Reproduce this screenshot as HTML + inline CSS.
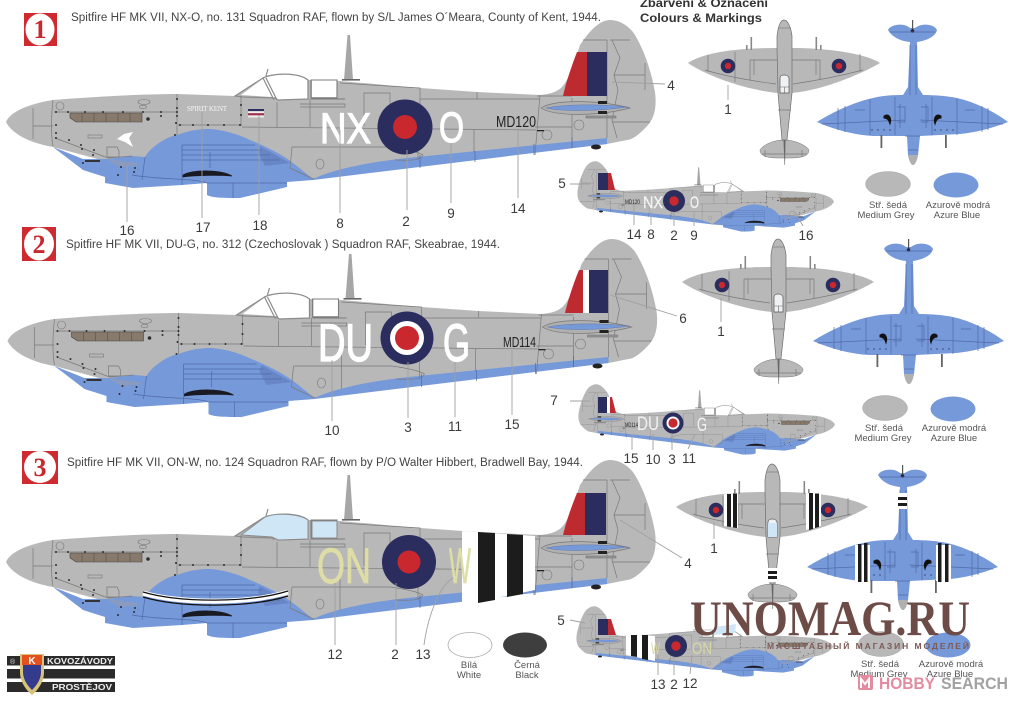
<!DOCTYPE html>
<html><head><meta charset="utf-8"><style>
html,body{margin:0;padding:0;background:#fff}
svg{display:block;filter:blur(.35px)}
text{font-family:"Liberation Sans",sans-serif}
.n{font-size:13.5px;fill:#3a3a3a;text-anchor:middle}
.t{font-size:11.5px;fill:#444}
.s{font-size:9.5px;fill:#555;text-anchor:middle}
.l{stroke:#a0a0a0;stroke-width:.9;fill:none}
.p{stroke:#7a7a7a;stroke-width:.7;fill:none}
.b{stroke:#506aa6;stroke-width:.7;fill:none}
</style></head><body>
<svg xmlns="http://www.w3.org/2000/svg" width="1020" height="702" viewBox="0 0 1020 702">
<defs>
<g id="side">
 <path d="M6,122 C10,112 28,104 53,100 C100,96 150,94 177,94 L235,96 L263,78 C272,73 298,72 308,80 L340,81 L420,88 L477,92 L540,95 C552,94 558,91 562,87 C569,80 575,60 580,45 C590,30 600,20 610,20 C620,20 628,26 633,32 C645,50 652,75 655,92 C657,108 654,118 648,125 C640,134 632,140 627,140 L607,144 L314,179 L290,170 L120,165 L53,147 C30,143 12,134 6,122 Z" fill="#b8b8b8"/>
 <path d="M53,147 L83,159 L107,159 L132,156 L145,157 C150,148 165,137 177,135 C190,130 200,129 210,129 C225,130 240,135 250,140 C265,146 283,155 293,163 C302,170 308,175 313,179 C322,175 345,165 407,158 L607,138 V144 L313,180 L287,182 V187 L240,198 C225,198 212,198 207,195 V183 L182,185 L133,188 L105,183 V177 L83,170 Z" fill="#7699da"/>
 <path d="M260,146 L290,163 L265,166 L258,152 Z" fill="#6886c6"/>
 <path d="M241,95 L265,77 C275,73 298,73 308,80 L308,99 L278,100 L272,97 Z" fill="#fff"/>
 <rect x="312" y="80" width="25" height="17" fill="#fff"/>
 <path d="M235,96 L263,78 C272,73 298,72 308,80 V99 L278,100 L275,98 L243,97 Z" fill="none" stroke="#8c8c8c" stroke-width="1.3"/>
 <path d="M263,78 L274,100 M266,78 L277,100 M266,76 L268,69" stroke="#8c8c8c" stroke-width="1.2" fill="none"/>
 <path d="M311,80 H337 V98 H311 Z M311,99 H345" stroke="#7c7c7c" stroke-width="1.1" fill="none"/>
 <path d="M344,80 L347.5,35 L350,35 L353,80 Z" fill="#a6a6a6"/>
 <rect x="342" y="79" width="18" height="1.6" fill="#666"/>
 <path d="M70,113 H142 V122 H76 L70,118 Z" fill="#877a6c" stroke="#444" stroke-width=".6"/>
 <path d="M82,113V122 M94,113V122 M106,113V122 M118,113V122 M130,113V122" stroke="#5d5348" stroke-width=".6"/>
 <path class="p" d="M53,100 C51,118 51,135 53,146 M33,108 V139 M33,126 H53 M54,112 H177 M177,94 V135 M178,125 H242 M241,96 V125 M242,127 L536,130 M55,138 L108,158 L132,156 M277,102 V127 M310,99 V127 M292,147 H390 C405,149 418,152 423,155 C420,162 405,160 395,160 M292,147 L290,168 C298,172 305,175 314,179 M364,126 V93 H390 V127 M340,83 L420,88 V127 M420,99 H540 M477,92 V99 M540,95 L535,155 M572,98 V148 M607,40 V138 M583,40 H607 M610,40 H630 M612,40 L620,58 L614,75 H645 M645,63 V90 M614,75 L618,90 L612,120 L617,138 M612,122 H650 M535,127 L572,127 M418,127 V160 M474,130 V152 M340,127 V170 M300,104 H345 V107 H300 M537,96 H572"/>
 <path class="b" d="M182,145 H255 M182,150 H262 M182,155 H270 M182,160 H280 M182,145 V185 M210,152 V168 M207,183 H287 M233,183 V198 M420,155 V168 M475,151 V162 M534,144 V155 M572,137 V148 M145,157 L142,180 M132,175 C160,180 195,178 207,183"/>
 <path d="M183,175 C195,169 222,170 232,176 C222,175 196,175 183,177 Z" fill="#1a1a22" stroke="#1a1a22" stroke-width=".8"/>
 <rect x="85" y="160" width="15" height="2" fill="#333"/>
 <path d="M107,159 L135,163 L142,165 L120,167 Z" fill="#8a9bbd"/>
 <path d="M541,108 C555,99 600,100 630,108 C600,116 555,117 541,108 Z" fill="#b0b0b0" stroke="#777" stroke-width=".7"/>
 <path d="M546,108 C565,104 600,104 628,107 C600,111 565,112 546,108 Z" fill="#7699da" stroke="#5a6f9e" stroke-width=".4"/>
 <rect x="598" y="101" width="9" height="3" fill="#222"/><rect x="598" y="111" width="9" height="3" fill="#222"/>
 <rect x="586" y="116" width="30" height="2" fill="#999" stroke="#666" stroke-width=".5"/>
 <ellipse cx="596" cy="147" rx="5" ry="2.5" fill="#222"/>
 <circle cx="579" cy="125" r="5" fill="none" stroke="#777" stroke-width=".6"/>
 <circle cx="547" cy="135" r="5" fill="none" stroke="#777" stroke-width=".6"/>
 <rect x="537" y="130" width="7" height="1.3" fill="#222"/>
 <ellipse cx="320" cy="164" rx="4" ry="5" fill="none" stroke="#777" stroke-width=".6"/>
 <rect x="88" y="135" width="14" height="3" fill="none" stroke="#777" stroke-width=".6"/>
 <path class="p" d="M107,147 H117 L119,151 V157 H107 Z"/>
 <g fill="#2e2e2e"><circle cx="148" cy="119" r="1.8"/><circle cx="56" cy="112" r="1"/><circle cx="68" cy="112" r="1"/><circle cx="85" cy="112" r="1"/><circle cx="103" cy="112" r="1"/><circle cx="123" cy="112" r="1"/><circle cx="143" cy="112" r="1"/><circle cx="161" cy="112" r="1"/><circle cx="177" cy="112" r="1"/><circle cx="161" cy="116" r="1"/><circle cx="177" cy="116" r="1"/><circle cx="56" cy="125" r="1"/><circle cx="56" cy="133" r="1"/><circle cx="56" cy="138" r="1"/><circle cx="69" cy="140" r="1"/><circle cx="81" cy="145" r="1"/><circle cx="94" cy="150" r="1"/><circle cx="82" cy="149" r="1"/><circle cx="93" cy="155" r="1"/><circle cx="83" cy="163" r="1"/><circle cx="118" cy="175" r="1"/><circle cx="121" cy="167" r="1"/><circle cx="135" cy="168" r="1"/><circle cx="134" cy="172" r="1"/><circle cx="177" cy="99" r="1"/><circle cx="177" cy="108" r="1"/><circle cx="176" cy="123" r="1"/><circle cx="175" cy="135" r="1"/><circle cx="180" cy="125" r="1"/><circle cx="193" cy="125" r="1"/><circle cx="208" cy="125" r="1"/><circle cx="224" cy="125" r="1"/><circle cx="240" cy="125" r="1"/><circle cx="241" cy="105" r="1"/><circle cx="241" cy="115" r="1"/></g>
 <ellipse cx="60" cy="106" rx="4" ry="4" fill="none" stroke="#777" stroke-width=".6"/>
 <ellipse cx="144" cy="102" rx="6" ry="2.5" fill="none" stroke="#777" stroke-width=".6"/>
 <ellipse cx="143" cy="107" rx="3.5" ry="1.8" fill="none" stroke="#777" stroke-width=".6"/>
</g>
<g id="top">
 <path d="M688,63 C700,55 725,48 777,48 L793,48 C825,48 865,53 880,63 C865,72 825,90 792,93 L778,93 C745,90 705,75 688,63 Z" fill="#b8b8b8"/>
 <path d="M760,150 C762,146 772,140 784,140 C796,140 807,146 809,150 C809,155 804,158 790,158 L778,158 C765,158 760,155 760,150 Z" fill="#b8b8b8" stroke="#777" stroke-width=".5"/>
 <path d="M777,48 V36 C778,28 780,20 784,20 C788,20 791,28 792,36 V48 L792,93 L787,140 L782,140 L778,93 Z" fill="#b8b8b8" stroke="#6e6e6e" stroke-width=".7"/>
 <path d="M783.5,140 L785.5,140 L785,165 L784.5,165 Z" fill="#666"/>
 <path d="M780,78 C780,74 788,74 789,78 V93 H780 Z" fill="#eef2f5" stroke="#555" stroke-width=".7"/>
 <path d="M780,87 H789 M784.5,87 V93 M779,28 H791" stroke="#666" stroke-width=".6" fill="none"/>
 <rect x="750.5" y="37" width="1.6" height="13" fill="#888"/><rect x="815.5" y="37" width="1.6" height="13" fill="#888"/>
 <rect x="746" y="45" width="1.6" height="5" fill="#888"/><rect x="820" y="45" width="1.6" height="5" fill="#888"/>
 <path class="p" d="M708,55 V72 M735,52 V82 M750,60 H777 M792,60 H820 M860,54 V72 M750,60 V80 M820,60 V80 M754,60 V75 M816,60 V75 M705,70 C725,76 745,80 776,84 M863,70 C840,76 820,80 793,84 M765,150 V157 M802,150 V157 M762,154 H807 M778,110 H791"/>
</g>
<g id="bot">
 <path d="M888,30 C890,25 903,22 910,28 L915,28 C923,22 935,25 937,30 C936,35 930,40 917,42 L918,87 L923,95 C935,95 947,96 957,98 C975,102 995,112 1008,122 C995,127 980,132 960,134 L920,136 L918,155 C917,160 915,165 913,165 C911,165 909,160 908,155 L907,136 L873,136 C855,135 835,130 817,122 C828,115 850,103 873,98 C885,95 895,95 903,95 L908,87 L910,42 C900,41 892,37 888,30 Z" fill="#7699da"/>
 <path d="M908,155 C909,161 911,165 913,165 C915,165 917,161 918,155 Z" fill="#b0b0b0"/>
 <rect x="912" y="20" width="1.2" height="12" fill="#555"/>
 <circle cx="912.5" cy="31" r="1.8" fill="#223"/>
 <path class="b" d="M822,124 L905,120 M1003,124 L920,120 M838,108 V130 M845,106 V132 M870,99 V135 M895,97 V135 M932,97 V135 M957,99 V135 M982,106 V132 M988,108 V130 M900,104 V128 M926,104 V128 M897,107 H905 V122 H897 M921,107 H928 V122 H921 M910,45 V95 M916,45 V95 M855,110 H865 M965,110 H975 M890,32 H935 M908,150 H918 M905,136 H920"/>
 <g fill="#55699a"><circle cx="872" cy="130" r="1"/><circle cx="878" cy="130" r="1"/><circle cx="884" cy="130" r="1"/><circle cx="890" cy="130" r="1"/><circle cx="935" cy="130" r="1"/><circle cx="941" cy="130" r="1"/><circle cx="947" cy="130" r="1"/><circle cx="953" cy="130" r="1"/></g>
 <path d="M884,116 C889,113 892,118 890,124 C889,120 887,118 884,118 Z" fill="#111" stroke="#111" stroke-width="1"/>
 <path d="M941,116 C936,113 933,118 935,124 C936,120 938,118 941,118 Z" fill="#111" stroke="#111" stroke-width="1"/>
 <rect x="880.5" y="135" width="1.8" height="13" fill="#666"/><rect x="945" y="135" width="1.8" height="13" fill="#666"/>
</g>
</defs>
<rect width="1020" height="702" fill="#fff"/>

<!-- Large side views -->
<use href="#side"/>
<use href="#side" transform="translate(1.5,219)"/>
<use href="#side" transform="translate(0,440)"/>

<!-- Plane 1 markings -->
<path d="M563,96 C566,82 572,65 577,52 H587 V96 Z" fill="#bd2b30"/><rect x="587" y="52" width="20" height="44" fill="#2b2d5e"/>
<circle cx="405" cy="127" r="27.5" fill="#2b2d5e"/><circle cx="405" cy="127" r="12" fill="#c9282f"/>
<text x="320" y="143" font-size="43" fill="#fff" stroke="#fff" stroke-width="1.2" textLength="51" lengthAdjust="spacingAndGlyphs">NX</text>
<text x="439" y="142" font-size="43" fill="#fff" stroke="#fff" stroke-width="1.2" textLength="25" lengthAdjust="spacingAndGlyphs">O</text>
<text x="496" y="127" font-size="16" fill="#222" textLength="40" lengthAdjust="spacingAndGlyphs">MD120</text>
<text x="187" y="111" font-size="7" fill="#f4f4f4" textLength="40" style="font-family:'Liberation Serif',serif">SPIRIT KENT</text>
<rect x="248" y="109" width="16" height="2.2" fill="#2b2d5e"/><rect x="248" y="111.2" width="16" height="2" fill="#eee"/><rect x="248" y="113.2" width="16" height="2.2" fill="#a23050"/><rect x="248" y="115.4" width="16" height="2" fill="#eee"/>
<path d="M117,139 L124,134 L133,132 L129,138 L133,147 L125,142 Z" fill="#fff"/>

<!-- Plane 2 markings -->
<path d="M565,313 C568,300 574,282 579,270 H583 V313 Z" fill="#bd2b30"/><rect x="583" y="270" width="6" height="43" fill="#fff"/><rect x="589" y="270" width="19" height="43" fill="#2b2d5e"/>
<circle cx="407" cy="338" r="26.5" fill="#2b2d5e"/><circle cx="407" cy="338" r="17" fill="#fff"/><circle cx="407" cy="338" r="12" fill="#c9282f"/>
<text x="318" y="361" font-size="53" fill="#fff" stroke="#fff" stroke-width="1.3" textLength="55" lengthAdjust="spacingAndGlyphs">DU</text>
<text x="443" y="361" font-size="53" fill="#fff" stroke="#fff" stroke-width="1.3" textLength="27" lengthAdjust="spacingAndGlyphs">G</text>
<text x="503" y="347" font-size="15" fill="#222" textLength="33" lengthAdjust="spacingAndGlyphs">MD114</text>

<!-- Plane 3 markings -->
<path d="M563,535 C566,522 572,505 577,493 H585 V535 Z" fill="#bd2b30"/><rect x="585" y="493" width="21" height="42" fill="#2b2d5e"/>
<path d="M241,535 L265,517 C275,513 298,513 308,520 L308,539 L278,540 L272,537 Z" fill="#cfe6f6" stroke="#8c8c8c" stroke-width="1"/>
<rect x="312" y="521" width="25" height="17" fill="#cfe6f6" stroke="#8c8c8c" stroke-width="1"/>
<path d="M462,531 L535,536 V590 L462,605 Z" fill="#fff"/>
<path d="M478,532 L495,533 V600 L478,603 Z" fill="#1c1c1c"/><path d="M507,534 L523,535 V594 L507,597 Z" fill="#1c1c1c"/>
<circle cx="409" cy="562" r="27" fill="#2b2d5e"/><circle cx="409" cy="562" r="11.5" fill="#c9282f"/>
<text x="317" y="583" font-size="50" fill="#dedda6" stroke="#dedda6" stroke-width=".8" textLength="54" lengthAdjust="spacingAndGlyphs">ON</text>
<text x="449" y="583" font-size="50" fill="#dedda6" stroke="#dedda6" stroke-width=".8" textLength="22" lengthAdjust="spacingAndGlyphs">W</text>
<path d="M143,593 C180,604 250,604 288,592" stroke="#fff" stroke-width="5" fill="none"/>
<path d="M143,592 C180,603 250,603 288,591" stroke="#111" stroke-width="1.3" fill="none"/>
<path d="M143,597 C180,608 250,608 288,596" stroke="#111" stroke-width="1.3" fill="none"/>

<!-- Small side views -->
<use href="#side" transform="matrix(-.395 0 0 .395 836.4 153.4)"/>
<use href="#side" transform="matrix(-.395 0 0 .395 837.4 376.4)"/>
<use href="#side" transform="matrix(-.395 0 0 .395 835.4 598.4)"/>
<g>
<path d="M608,173 H611 L615,190 H608 Z" fill="#bd2b30"/><rect x="598" y="173" width="10" height="17" fill="#2b2d5e"/>
<circle cx="674" cy="201" r="11" fill="#2b2d5e"/><circle cx="674" cy="201" r="4.7" fill="#c9282f"/>
<text x="643" y="208" font-size="17" fill="#f2f2f2" stroke="#f2f2f2" stroke-width=".4" textLength="20" lengthAdjust="spacingAndGlyphs">NX</text>
<text x="690" y="208" font-size="17" fill="#f2f2f2" stroke="#f2f2f2" stroke-width=".4" textLength="9" lengthAdjust="spacingAndGlyphs">O</text>
<text x="625" y="204" font-size="6" fill="#222" textLength="15" lengthAdjust="spacingAndGlyphs">MD120</text>
<path d="M610,397 H612 L616,413 H610 Z" fill="#bd2b30"/><rect x="607" y="397" width="3" height="16" fill="#fff"/><rect x="598" y="397" width="9" height="16" fill="#2b2d5e"/>
<circle cx="673" cy="423" r="10.5" fill="#2b2d5e"/><circle cx="673" cy="423" r="6.5" fill="#fff"/><circle cx="673" cy="423" r="4.6" fill="#c9282f"/>
<text x="637" y="430" font-size="19" fill="#f2f2f2" textLength="22" lengthAdjust="spacingAndGlyphs">DU</text>
<text x="697" y="431" font-size="19" fill="#f2f2f2" textLength="10" lengthAdjust="spacingAndGlyphs">G</text>
<text x="625" y="427" font-size="6" fill="#222" textLength="13" lengthAdjust="spacingAndGlyphs">MD114</text>
<path d="M608,619 H611 L616,635 H608 Z" fill="#bd2b30"/><rect x="598" y="619" width="10" height="16" fill="#2b2d5e"/>
<path d="M626,634 L655,636 V661 L626,655 Z" fill="#fff"/>
<path d="M631,635 H637 V657 L631,656 Z" fill="#1c1c1c"/><path d="M642,635 H648 V660 L642,659 Z" fill="#1c1c1c"/>
<circle cx="676" cy="646" r="11" fill="#2b2d5e"/><circle cx="676" cy="646" r="4.7" fill="#c9282f"/>
<text x="692" y="654" font-size="17" fill="#d8d7a4" textLength="20" lengthAdjust="spacingAndGlyphs">ON</text>
<text x="651" y="654" font-size="17" fill="#d8d7a4" textLength="9" lengthAdjust="spacingAndGlyphs">W</text>
<path d="M714,627 L736,624 L735,633 L714,635 Z" fill="#cfe6f6"/>
</g>

<!-- Top views -->
<use href="#top"/>
<use href="#top" transform="translate(-6,219)"/>
<use href="#top" transform="translate(-12,444)"/>
<g fill="#2b2d5e"><circle cx="728" cy="66" r="7.3"/><circle cx="839" cy="66" r="7.3"/><circle cx="722" cy="285" r="7.3"/><circle cx="833" cy="285" r="7.3"/><circle cx="716" cy="510" r="7.3"/><circle cx="828" cy="510" r="7.3"/></g>
<g fill="#c9282f"><circle cx="728" cy="66" r="3.2"/><circle cx="839" cy="66" r="3.2"/><circle cx="722" cy="285" r="3.2"/><circle cx="833" cy="285" r="3.2"/><circle cx="716" cy="510" r="3.2"/><circle cx="828" cy="510" r="3.2"/></g>
<path d="M724,494 L738,493 V528 L724,526 Z" fill="#fff"/><path d="M727,494 H731 V527 L727,526.5 Z M733,493.5 H737 V528 L733,527.5 Z" fill="#1c1c1c"/>
<path d="M806,493 L821,494 V526 L806,530 Z" fill="#fff"/><path d="M809,493 H813 V529 L809,530 Z M815,493.5 H819 V527 L815,528 Z" fill="#1c1c1c"/>
<rect x="768" y="568" width="9" height="14" fill="#fff"/><rect x="768" y="571" width="9" height="3" fill="#1c1c1c"/><rect x="768" y="576" width="9" height="3" fill="#1c1c1c"/>
<rect x="768" y="523" width="9" height="14" fill="#cfe6f6"/>

<!-- Bottom views -->
<use href="#bot"/>
<use href="#bot" transform="translate(-4,219)"/>
<use href="#bot" transform="translate(-10,445)"/>
<rect x="855" y="545" width="15" height="36" fill="#fff"/><rect x="858" y="544" width="3.5" height="38" fill="#1c1c1c"/><rect x="864" y="543" width="3.5" height="39" fill="#1c1c1c"/>
<rect x="936" y="545" width="15" height="36" fill="#fff"/><rect x="938" y="543" width="3.5" height="39" fill="#1c1c1c"/><rect x="945" y="544" width="3.5" height="38" fill="#1c1c1c"/>
<rect x="898" y="493" width="9" height="16" fill="#fff"/><rect x="898" y="497" width="9" height="3" fill="#1c1c1c"/><rect x="898" y="503" width="9" height="3" fill="#1c1c1c"/>

<!-- Leader lines -->
<path class="l" d="M127,165V222 M202,112V218 M259,115V215 M340,130V213 M407,150V210 M451,143V203 M518,130V198 M612,82L665,84 M728,85V100
M332,360V421 M408,362V418 M455,362V417 M512,350V415 M610,295L677,316 M721,298V322
M335,583V645 M396,583V645 M453,578C440,585 428,615 424,645 M620,520L682,558 M714,522V539
M570,184H590 M570,401H590 M570,620L585,623
M634,204V225 M651,212V225 M674,212V226 M694,212V226 M795,212L803,226
M632,434V450 M653,434V450 M672,434V450 M695,434L688,449
M658,655V675 M674,658V675 M692,655L690,674"/>

<!-- Number labels -->
<g class="n">
<text class="n" x="127" y="235">16</text><text class="n" x="203" y="232">17</text><text class="n" x="260" y="230">18</text><text class="n" x="340" y="228">8</text><text class="n" x="406" y="226">2</text><text class="n" x="451" y="218">9</text><text class="n" x="518" y="213">14</text><text class="n" x="671" y="90">4</text>
<text class="n" x="728" y="114">1</text><text class="n" x="562" y="188">5</text><text class="n" x="634" y="239">14</text><text class="n" x="651" y="239">8</text><text class="n" x="674" y="240">2</text><text class="n" x="694" y="240">9</text><text class="n" x="806" y="240">16</text>
<text class="n" x="332" y="435">10</text><text class="n" x="408" y="432">3</text><text class="n" x="455" y="431">11</text><text class="n" x="512" y="429">15</text><text class="n" x="683" y="323">6</text><text class="n" x="721" y="336">1</text><text class="n" x="554" y="405">7</text>
<text class="n" x="631" y="463">15</text><text class="n" x="653" y="464">10</text><text class="n" x="672" y="464">3</text><text class="n" x="689" y="463">11</text>
<text class="n" x="335" y="659">12</text><text class="n" x="395" y="659">2</text><text class="n" x="423" y="659">13</text><text class="n" x="688" y="568">4</text><text class="n" x="714" y="553">1</text><text class="n" x="561" y="625">5</text>
<text class="n" x="658" y="689">13</text><text class="n" x="674" y="689">2</text><text class="n" x="690" y="688">12</text>
</g>

<!-- Titles -->
<text class="t" x="71" y="21" textLength="530" lengthAdjust="spacingAndGlyphs">Spitfire HF MK VII, NX-O, no. 131 Squadron RAF, flown by S/L James O´Meara, County of Kent, 1944.</text>
<text class="t" x="66" y="248" textLength="434" lengthAdjust="spacingAndGlyphs">Spitfire HF MK VII, DU-G, no. 312 (Czechoslovak ) Squadron RAF, Skeabrae, 1944.</text>
<text class="t" x="67" y="466" textLength="516" lengthAdjust="spacingAndGlyphs">Spitfire HF MK VII, ON-W, no. 124 Squadron RAF, flown by P/O Walter Hibbert, Bradwell Bay, 1944.</text>
<text x="640" y="7" font-size="11.5" font-weight="bold" fill="#333" textLength="128" lengthAdjust="spacingAndGlyphs">Zbarvení &amp; Označení</text>
<text x="640" y="22" font-size="11.5" font-weight="bold" fill="#333" textLength="122" lengthAdjust="spacingAndGlyphs">Colours &amp; Markings</text>

<!-- Badges -->
<rect x="24" y="13" width="33" height="33" fill="#cf2a30"/><ellipse cx="40" cy="29.5" rx="14.5" ry="16" fill="#fff"/>
<text x="40" y="38" font-size="26" font-weight="bold" fill="#c8272d" text-anchor="middle" style="font-family:'Liberation Serif',serif">1</text>
<rect x="22" y="227" width="34" height="34" fill="#cf2a30"/><ellipse cx="39" cy="244" rx="15" ry="16.5" fill="#fff"/>
<text x="39" y="253" font-size="26" font-weight="bold" fill="#c8272d" text-anchor="middle" style="font-family:'Liberation Serif',serif">2</text>
<rect x="22" y="451" width="36" height="33" fill="#cf2a30"/><ellipse cx="40" cy="467" rx="16" ry="16" fill="#fff"/>
<text x="40" y="476" font-size="26" font-weight="bold" fill="#c8272d" text-anchor="middle" style="font-family:'Liberation Serif',serif">3</text>

<!-- Swatches -->
<g fill="#b8b8b8" stroke="#999" stroke-width=".4"><ellipse cx="888" cy="184" rx="22.5" ry="12.5"/><ellipse cx="885" cy="408" rx="22.5" ry="12.5"/><ellipse cx="881" cy="644" rx="22.5" ry="12.5"/></g>
<g fill="#7699da"><ellipse cx="956" cy="185" rx="22.5" ry="12.5"/><ellipse cx="953" cy="409" rx="22.5" ry="12.5"/><ellipse cx="948" cy="645" rx="22.5" ry="12.5"/></g>
<text class="s" x="888" y="208">Stř. šedá</text><text class="s" x="886" y="218">Medium Grey</text><text class="s" x="958" y="208">Azurově modrá</text><text class="s" x="957" y="218">Azure Blue</text>
<text class="s" x="884" y="431">Stř. šedá</text><text class="s" x="883" y="441">Medium Grey</text><text class="s" x="954" y="431">Azurově modrá</text><text class="s" x="954" y="441">Azure Blue</text>
<text class="s" x="880" y="667">Stř. šedá</text><text class="s" x="879" y="677">Medium Grey</text><text class="s" x="951" y="667">Azurově modrá</text><text class="s" x="950" y="677">Azure Blue</text>
<ellipse cx="470" cy="645" rx="22" ry="12.5" fill="#fff" stroke="#aaa" stroke-width=".8"/><ellipse cx="525" cy="645" rx="22" ry="12.5" fill="#3e3e3e"/>
<text class="s" x="469" y="668">Bílá</text><text class="s" x="469" y="678">White</text><text class="s" x="527" y="668">Černá</text><text class="s" x="527" y="678">Black</text>

<!-- Logo -->
<rect x="7" y="656" width="108" height="9.5" fill="#2b2b2b"/><rect x="7" y="669" width="108" height="9.5" fill="#2b2b2b"/><rect x="7" y="682" width="108" height="10" fill="#2b2b2b"/>
<path d="M20,654 H44 V672 C44,682 38,690 32,695 C26,690 20,682 20,672 Z" fill="#d8c27a"/>
<path d="M23,664 H41 V672 C41,680 36,686 32,690 C28,686 23,680 23,672 Z" fill="#343a8c"/>
<rect x="22" y="655" width="20" height="10" fill="#e5501f"/>
<text x="32" y="664" font-size="10" font-weight="bold" fill="#fff" text-anchor="middle">K</text>
<text x="10" y="664" font-size="7" fill="#ddd">®</text>
<text x="47" y="664" font-size="8" font-weight="bold" fill="#eee" textLength="66" lengthAdjust="spacingAndGlyphs">KOVOZÁVODY</text>
<text x="52" y="690" font-size="8" font-weight="bold" fill="#eee" textLength="60" lengthAdjust="spacingAndGlyphs">PROSTĚJOV</text>

<!-- Watermarks -->
<text x="690" y="635" font-size="50" font-weight="bold" fill="#6d4c47" textLength="280" lengthAdjust="spacingAndGlyphs" style="font-family:'Liberation Serif',serif">UNOMAG.RU</text>
<text x="767" y="649" font-size="8.5" font-weight="bold" fill="#7d5a55" textLength="202">МАСШТАБНЫЙ МАГАЗИН МОДЕЛЕЙ</text>
<rect x="858" y="675" width="15" height="15" rx="2" fill="#e58ba0"/>
<path d="M861,688 V679 L865,684 L869,679 V688" stroke="#fff" stroke-width="2" fill="none"/>
<text x="879" y="689" font-size="17" font-weight="bold" fill="#e58ba0" textLength="56" lengthAdjust="spacingAndGlyphs">HOBBY</text>
<text x="941" y="689" font-size="17" font-weight="bold" fill="#a2a2a2" textLength="67" lengthAdjust="spacingAndGlyphs">SEARCH</text>
</svg>
</body></html>
